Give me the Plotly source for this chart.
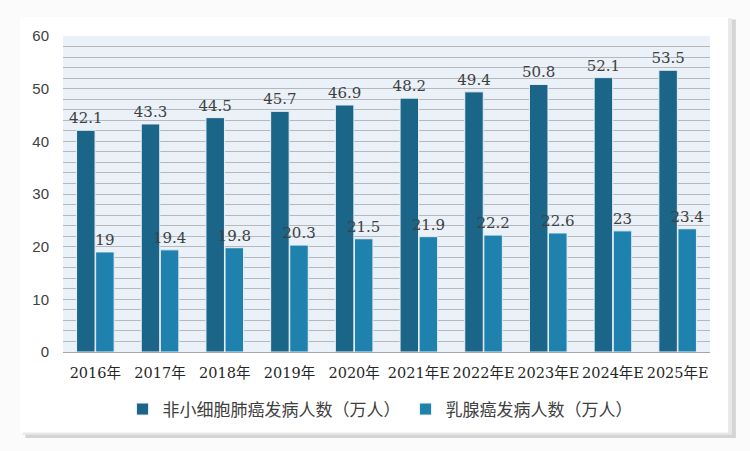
import plotly.graph_objects as go

categories = ["2016年", "2017年", "2018年", "2019年", "2020年", "2021年E", "2022年E", "2023年E", "2024年E", "2025年E"]
nsclc = [42.1, 43.3, 44.5, 45.7, 46.9, 48.2, 49.4, 50.8, 52.1, 53.5]
breast = [19, 19.4, 19.8, 20.3, 21.5, 21.9, 22.2, 22.6, 23, 23.4]
series_names = ["非小细胞肺癌发病人数（万人）", "乳腺癌发病人数（万人）"]
y_ticks = [0, 10, 20, 30, 40, 50, 60]

label_font = dict(family="DejaVu Serif, Liberation Serif, Noto Sans CJK SC", size=15, color="#404040")
cjk_font = "Noto Sans CJK SC, Liberation Serif"

fig = go.Figure()
fig.add_trace(go.Bar(
    x=categories, y=nsclc, name=series_names[0],
    marker=dict(color="#1B6688", line=dict(color="#E8F0F6", width=1)),
    text=[str(v) for v in nsclc], textposition="outside", cliponaxis=False,
    textfont=label_font, constraintext="none", textangle=0,
))
fig.add_trace(go.Bar(
    x=categories, y=breast, name=series_names[1],
    marker=dict(color="#1F82AE", line=dict(color="#E8F0F6", width=1)),
    text=[str(v) for v in breast], textposition="outside", cliponaxis=False,
    textfont=label_font, constraintext="none", textangle=0,
))

shapes = [
    # card shadow
    dict(type="rect", xref="paper", yref="paper", x0=-0.058, x1=1.040, y0=-0.272, y1=1.052,
         fillcolor="#D4D4D4", line=dict(width=0), layer="below"),
    dict(type="rect", xref="paper", yref="paper", x0=-0.062, x1=1.034, y0=-0.262, y1=1.056,
         fillcolor="#E8E8E8", line=dict(width=0), layer="below"),
    # card
    dict(type="rect", xref="paper", yref="paper", x0=-0.066, x1=1.028, y0=-0.255, y1=1.06,
         fillcolor="white", line=dict(width=0), layer="below"),
    # plot area background
    dict(type="rect", xref="paper", yref="paper", x0=0, x1=1, y0=0, y1=1,
         fillcolor="#EAF1F8", line=dict(width=0), layer="below"),
]

fig.update_layout(
    width=750, height=451,
    margin=dict(l=63, r=40, t=36, b=99),
    paper_bgcolor="#FBFBFB",
    plot_bgcolor="rgba(0,0,0,0)",
    barmode="group",
    bargap=0.41,
    bargroupgap=0.03,
    showlegend=True,
    legend=dict(orientation="h", x=0.49, xanchor="center", y=-0.125, yanchor="top",
                bgcolor="rgba(0,0,0,0)",
                font=dict(family=cjk_font, size=17, color="#404040"),
                traceorder="normal"),
    xaxis=dict(
        showgrid=False, showline=True, linecolor="#A6A6A6", linewidth=1,
        tickfont=dict(family="DejaVu Serif, Noto Sans CJK SC", size=14.5, color="#262626"),
        ticks="", ticklabelstandoff=8, tickangle=0,
    ),
    yaxis=dict(
        range=[0, 60], tickvals=y_ticks, showgrid=True, gridcolor="#B8B8B8", gridwidth=1,
        zeroline=False, ticks="", ticklabelstandoff=13,
        tickfont=dict(family="Liberation Sans, Arial", size=15, color="#404040"),
        minor=dict(dtick=2, showgrid=True, gridcolor="#B8B8B8", gridwidth=1),
    ),
    shapes=shapes,
)

fig.write_html("out.html")
